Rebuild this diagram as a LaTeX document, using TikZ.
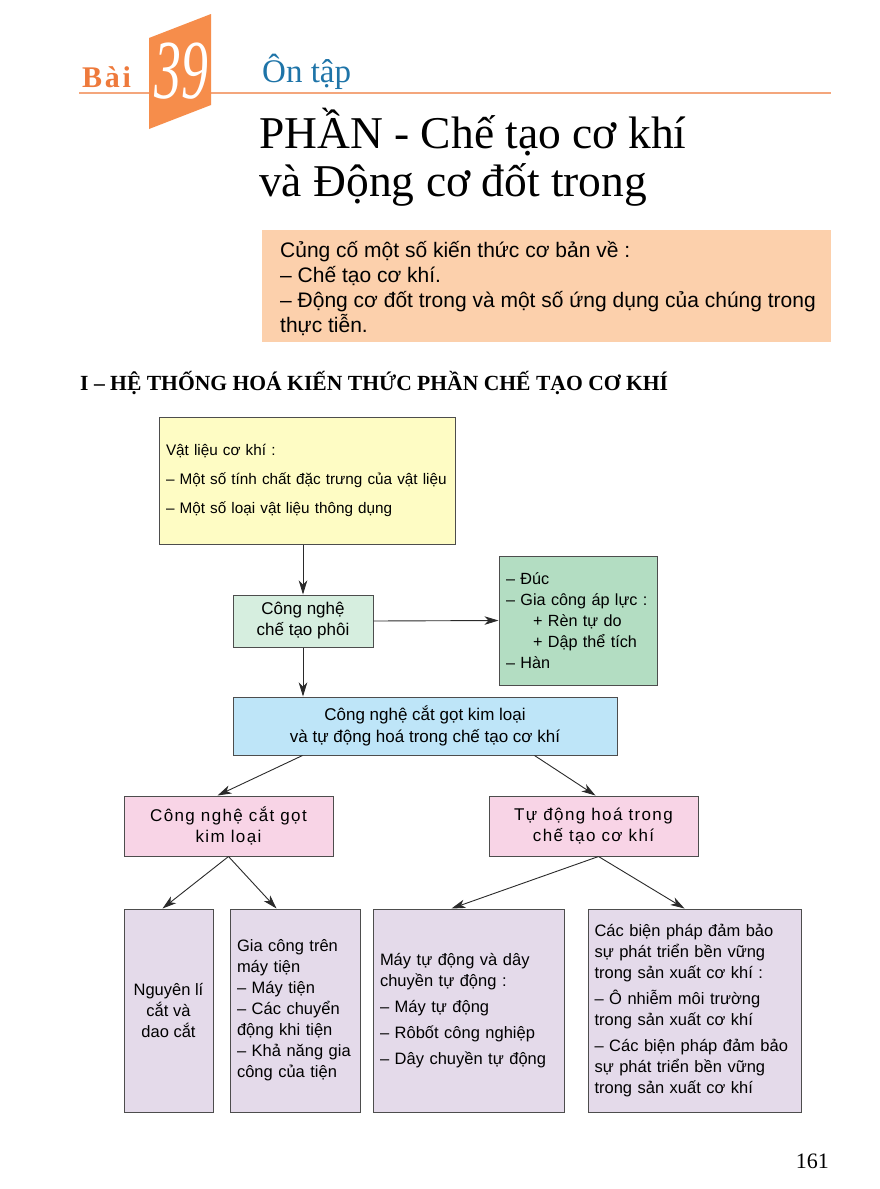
\documentclass[tikz,border=0pt]{standalone}
\usepackage{fontspec}
\usepackage{graphicx}
\setmainfont{Liberation Serif}
\setsansfont{Liberation Sans}
\usetikzlibrary{arrows.meta,calc}
\definecolor{badgec}{HTML}{F68D4B}
\definecolor{baic}{HTML}{EE7A3C}
\definecolor{linec}{HTML}{F4A67C}
\definecolor{bluet}{HTML}{1E74A8}
\definecolor{peach}{HTML}{FCD0AC}
\definecolor{yelc}{HTML}{FEFCC4}
\definecolor{lgreen}{HTML}{D6EEDF}
\definecolor{dgreen}{HTML}{B3DDC2}
\definecolor{lblue}{HTML}{BEE5F8}
\definecolor{pinkc}{HTML}{F8D4E6}
\definecolor{lavc}{HTML}{E4DAEA}
\definecolor{bordc}{HTML}{4D4D4D}
\definecolor{arrc}{HTML}{2A2A2A}
\begin{document}
\begin{tikzpicture}[x=1pt,y=-1pt,
  box/.style={draw=bordc, line width=1pt, inner sep=0pt, font=\sffamily},
  arr/.style={draw=arrc, line width=0.9pt, -{Stealth[length=14pt,width=8.5pt,inset=4pt]}},
  fs/.style={font=\sffamily\fontsize{#1}{21}\selectfont}
]
\useasboundingbox[fill=white] (0,0) rectangle (880,1189);
% header
\draw[linec, line width=1.2pt] (79,93) -- (831,93);
\fill[badgec] (149,38) -- (211,14) -- (211,105) -- (149,129) -- cycle;
\node[anchor=base west, inner sep=0, text=baic, font=\bfseries\fontsize{30}{30}\selectfont\addfontfeature{LetterSpace=9}] (bai) at (82,87) {Bài};
\node[inner sep=0, text=white, font=\itshape\fontsize{84}{84}\selectfont] (num) at (181,71) {\scalebox{0.64}[1]{39}};
\node[anchor=base west, inner sep=0, text=bluet, font=\fontsize{33}{33}\selectfont] (ontap) at (262,82) {Ôn tập};
\node[anchor=base west, inner sep=0, font=\fontsize{45.5}{45}\selectfont] (t1) at (259,148) {PHẦN - Chế tạo cơ khí};
\node[anchor=base west, inner sep=0, font=\fontsize{45.5}{45}\selectfont] (t2) at (259,196) {và Động cơ đốt trong};
% objectives
\node[fill=peach, anchor=north west, minimum width=569pt, minimum height=112pt, inner sep=0] (obj) at (262,230) {};
\node[anchor=base west, inner sep=0, font=\sffamily\fontsize{21}{25}\selectfont] (o1) at (280,257) {Củng cố một số kiến thức cơ bản về :};
\node[anchor=base west, inner sep=0, font=\sffamily\fontsize{21}{25}\selectfont] (o2) at (280,282) {– Chế tạo cơ khí.};
\node[anchor=base west, inner sep=0, font=\sffamily\fontsize{21}{25}\selectfont] (o3) at (280,307) {– Động cơ đốt trong và một số ứng dụng của chúng trong};
\node[anchor=base west, inner sep=0, font=\sffamily\fontsize{21}{25}\selectfont] (o4) at (280,332) {thực tiễn.};
% heading
\node[anchor=base west, inner sep=0, font=\bfseries\fontsize{21.6}{22}\selectfont] (head) at (80,390) {I – HỆ THỐNG HOÁ KIẾN THỨC PHẦN CHẾ TẠO CƠ KHÍ};
% flowchart
\node[box, fill=yelc, minimum width=296pt, minimum height=127pt, text width=282pt, align=left, font=\sffamily\fontsize{15.3}{29}\selectfont] (vl) at (307,480.5)
  {Vật liệu cơ khí :\\– Một số tính chất đặc trưng của vật liệu\\– Một số loại vật liệu thông dụng};
\node[box, fill=lgreen, minimum width=140pt, minimum height=52pt, align=center, fs=17] (cnp) at (303,621) {Công nghệ\\chế tạo phôi};
\node[box, fill=dgreen, minimum width=158pt, minimum height=129pt, text width=144pt, align=left, fs=16.2] (gc) at (578,620.5)
  {– Đúc\\– Gia công áp lực :\\\hspace*{27pt}+ Rèn tự do\\\hspace*{27pt}+ Dập thể tích\\– Hàn};
\node[box, fill=lblue, minimum width=384pt, minimum height=58pt, align=center, font=\sffamily\fontsize{17}{22}\selectfont] (cg) at (425,726)
  {Công nghệ cắt gọt kim loại\\và tự động hoá trong chế tạo cơ khí};
\node[box, fill=pinkc, minimum width=209pt, minimum height=60pt, align=center, font=\sffamily\fontsize{17}{21}\selectfont\addfontfeature{LetterSpace=8}] (ck) at (228.5,826) {Công nghệ cắt gọt\\kim loại};
\node[box, fill=pinkc, minimum width=209pt, minimum height=60pt, align=center, font=\sffamily\fontsize{17}{21}\selectfont\addfontfeature{LetterSpace=8}] (td) at (593.5,826) {Tự động hoá trong\\chế tạo cơ khí};
\node[box, fill=lavc, minimum width=89pt, minimum height=203pt, align=center, fs=16.5] (b1) at (168.5,1010.5) {Nguyên lí\\cắt và\\dao cắt};
\node[box, fill=lavc, minimum width=130pt, minimum height=203pt, text width=116pt, align=left, fs=16.5] (b2) at (295,1010.5)
  {Gia công trên\\máy tiện\\– Máy tiện\\– Các chuyển\\động khi tiện\\– Khả năng gia\\công của tiện};
\node[box, fill=lavc, minimum width=191pt, minimum height=203pt, text width=177pt, align=left, fs=16.5] (b3) at (468.5,1010.5)
  {Máy tự động và dây\\chuyền tự động :\\[5pt]– Máy tự động\\[5pt]– Rôbốt công nghiệp\\[5pt]– Dây chuyền tự động};
\node[box, fill=lavc, minimum width=213pt, minimum height=203pt, text width=200pt, align=left, fs=16.5] (b4) at (694.5,1010.5)
  {\makebox[200pt][s]{Các biện pháp đảm bảo}\\\makebox[200pt][s]{sự phát triển bền vững}\\trong sản xuất cơ khí :\\[5pt]\makebox[200pt][s]{– Ô nhiễm môi trường}\\trong sản xuất cơ khí\\[5pt]\makebox[200pt][s]{– Các biện pháp đảm bảo}\\\makebox[200pt][s]{sự phát triển bền vững}\\trong sản xuất cơ khí};
% arrows
\draw[arr] (vl.south -| cnp.north) -- (cnp.north);
\draw[arr] (cnp.east) -- (gc.west);
\draw[arr] (cnp.south) -- (cnp.south |- cg.north);
\draw[arr] ($(cg.south west)+(70,0)$) -- ($(ck.north west)+(94,0)$);
\draw[arr] ($(cg.south west)+(302,0)$) -- ($(td.north west)+(107,0)$);
\draw[arr] (ck.south) -- ($(b1.north west)+(39,0)$);
\draw[arr] (ck.south) -- ($(b2.north west)+(47,0)$);
\draw[arr] ($(td.south)+(5,0)$) -- ($(b3.north west)+(79,0)$);
\draw[arr] ($(td.south)+(5,0)$) -- ($(b4.north west)+(97,0)$);
% page number
\node[anchor=base east, inner sep=0, font=\fontsize{22}{22}\selectfont] (pg) at (829,1168) {161};
\end{tikzpicture}
\end{document}
